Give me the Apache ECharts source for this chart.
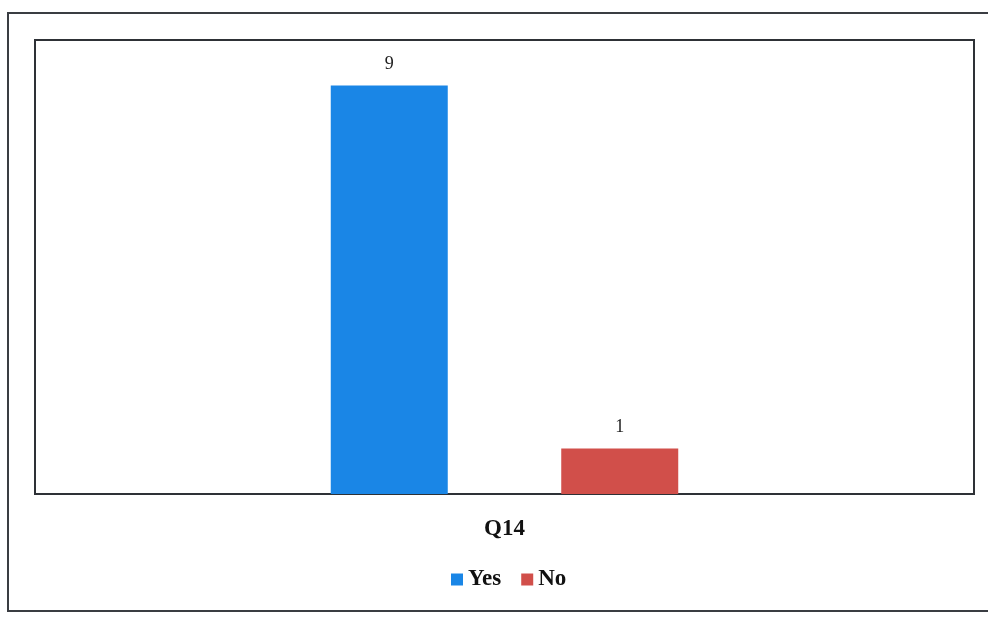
<!DOCTYPE html>
<html><head><meta charset="utf-8">
<script src="https://cdn.jsdelivr.net/npm/echarts@6/dist/echarts.min.js"></script>
<style>html,body{margin:0;padding:0;background:#fff}#c{width:988px;height:619px}</style>
</head><body><div id="c"></div>
<script>
const categories = ['Q14'];
const seriesNames = ['Yes', 'No'];
const yesValues = [9];
const noValues = [1];
const colors = ['#1a86e6', '#d14f4a'];

const chart = echarts.init(document.getElementById('c'));
const serif = '"Liberation Serif","DejaVu Serif",serif';
chart.setOption({
  animation: false,
  backgroundColor: '#fff',
  graphic: [{
    type: 'rect', shape: {x: 8, y: 13, width: 1000, height: 598},
    style: {fill: 'none', stroke: '#3a3d42', lineWidth: 2}, silent: true
  }],
  legend: {
    data: seriesNames, bottom: 23, left: 446,
    icon: 'rect', itemWidth: 12, itemHeight: 12, itemGap: 20,
    textStyle: {fontFamily: serif, fontWeight: 'bold', fontSize: 23, color: '#111'}
  },
  grid: {left: 35, top: 40, right: 14, bottom: 125, show: true, borderColor: '#2e3136', borderWidth: 2},
  xAxis: {
    type: 'category', data: categories,
    axisLine: {show: false}, axisTick: {show: false},
    axisLabel: {margin: 24, fontFamily: serif, fontWeight: 'bold', fontSize: 23, color: '#111'}
  },
  yAxis: {type: 'value', min: 0, max: 10, show: false, splitLine: {show: false}},
  series: [
    {name: seriesNames[0], type: 'bar', data: yesValues, barWidth: 117, barGap: '97%',
     itemStyle: {color: colors[0]},
     label: {show: true, position: 'top', distance: 12, fontFamily: serif, fontSize: 18, color: '#222'}},
    {name: seriesNames[1], type: 'bar', data: noValues, barWidth: 117,
     itemStyle: {color: colors[1]},
     label: {show: true, position: 'top', distance: 12, fontFamily: serif, fontSize: 18, color: '#222'}}
  ]
});
</script></body></html>
